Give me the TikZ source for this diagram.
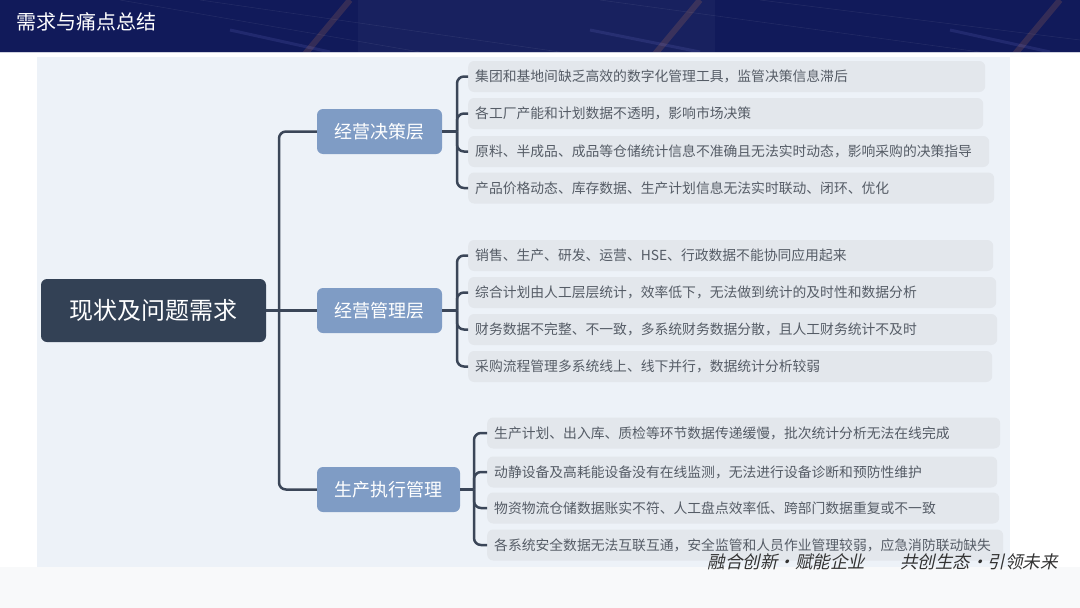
\documentclass[tikz,border=0pt]{standalone}
\usepackage{fontspec}
\setmainfont{Noto Sans CJK SC}
\newfontfamily\slogan[FakeSlant=0.22]{Noto Sans CJK SC}
\definecolor{headbg}{HTML}{111A5A}
\definecolor{panelbg}{HTML}{EDF2F8}
\definecolor{leaffill}{HTML}{E3E7EC}
\definecolor{leaftext}{HTML}{555C66}
\definecolor{midfill}{HTML}{7F9CC5}
\definecolor{rootfill}{HTML}{334155}
\definecolor{linecol}{HTML}{3B4658}
\definecolor{bottombg}{HTML}{F8F9FA}
\tikzset{
  rootbox/.style={draw=none,fill=rootfill,rounded corners=6,minimum width=225,minimum height=63,
    text=white,font=\fontsize{24}{28}\selectfont,inner sep=0},
  midbox/.style={draw=none,fill=midfill,rounded corners=6,minimum height=45,
    text=white,font=\fontsize{18}{22}\selectfont,inner sep=0},
  leafbox/.style={draw=none,fill=leaffill,rounded corners=6,minimum height=31,anchor=west,
    inner xsep=7,inner ysep=0,align=left,text=leaftext,font=\fontsize{13.8}{16}\selectfont},
  conn/.style={draw=linecol,line width=2.5pt},
  bconn/.style={draw=linecol,line width=2.5pt,rounded corners=7},
}
\begin{document}
\begin{tikzpicture}[x=1pt,y=-1pt]
\useasboundingbox (0,0) rectangle (1080,608);
% page background
\fill[white] (0,0) rectangle (1080,608);
\fill[bottombg] (0,567) rectangle (1080,608);
% header
\fill[headbg] (0,0) rectangle (1080,52);
\begin{scope}
\clip (0,0) rectangle (1080,52);
\fill[white,opacity=0.03] (358,0) rectangle (715,52);
\draw[white,opacity=0.07,line width=0.6pt] (120,0) -- (420,52) (200,0) -- (560,52) (600,0) -- (980,52) (760,0) -- (1080,40);
\draw[orange!60!pink,opacity=0.15,line width=6pt] (300,60) -- (350,0) (650,60) -- (700,0) (1010,60) -- (1060,0);
\draw[blue!40,opacity=0.12,line width=3pt] (230,30) -- (330,52) (590,30) -- (700,52) (950,30) -- (1050,52);
\end{scope}
\draw[white!80!headbg,line width=0.8pt] (0,52.5) -- (1080,52.5);
\node[anchor=west,text=white,font=\fontsize{20}{24}\selectfont,inner sep=0] (title) at (16,22) {需求与痛点总结};
% panel
\fill[panelbg] (37,57) rectangle (1010,567);
% root and level 1
\node[rootbox] (root) at (153.5,310.5) {现状及问题需求};
\node[midbox,minimum width=125] (n1) at (379.5,131.5) {经营决策层};
\node[midbox,minimum width=125] (n2) at (379.5,310.5) {经营管理层};
\node[midbox,minimum width=143] (n3) at (388.5,489.5) {生产执行管理};
\coordinate (t) at (279,310.5);
\coordinate (b1) at (457,131.5);
\coordinate (b2) at (457,310.5);
\coordinate (b3) at (474,489.5);
% leaves group 1
\node[leafbox,text width=503] (a1) at (468,76.5) {集团和基地间缺乏高效的数字化管理工具，监管决策信息滞后};
\node[leafbox,text width=501] (a2) at (468,113.5) {各工厂产能和计划数据不透明，影响市场决策};
\node[leafbox,text width=507] (a3) at (468,151.5) {原料、半成品、成品等仓储统计信息不准确且无法实时动态，影响采购的决策指导};
\node[leafbox,text width=512] (a4) at (468,188) {产品价格动态、库存数据、生产计划信息无法实时联动、闭环、优化};
% leaves group 2
\node[leafbox,text width=511] (c1) at (468,255.5) {销售、生产、研发、运营、HSE、行政数据不能协同应用起来};
\node[leafbox,text width=514] (c2) at (468,292.5) {综合计划由人工层层统计，效率低下，无法做到统计的及时性和数据分析};
\node[leafbox,text width=515] (c3) at (468,329.5) {财务数据不完整、不一致，多系统财务数据分散，且人工财务统计不及时};
\node[leafbox,text width=510] (c4) at (468,366.5) {采购流程管理多系统线上、线下并行，数据统计分析较弱};
% leaves group 3
\node[leafbox,text width=499] (d1) at (487,433) {生产计划、出入库、质检等环节数据传递缓慢，批次统计分析无法在线完成};
\node[leafbox,text width=496] (d2) at (487,472) {动静设备及高耗能设备没有在线监测，无法进行设备诊断和预防性维护};
\node[leafbox,text width=498] (d3) at (487,508) {物资物流仓储数据账实不符、人工盘点效率低、跨部门数据重复或不一致};
\node[leafbox,text width=502] (d4) at (487,545) {各系统安全数据无法互联互通，安全监管和人员作业管理较弱，应急消防联动缺失};
% trunk connectors
\draw[conn] (root.east) -- (n2.west);
\draw[bconn] (t) |- (n1.west);
\draw[bconn] (t) |- (n3.west);
% branch connectors
\draw[conn] (n1.east) -- (b1);
\draw[conn] (n2.east) -- (b2);
\draw[conn] (n3.east) -- (b3);
\foreach \l in {a1,a2,a3,a4} \draw[bconn] (b1) |- (\l.west);
\foreach \l in {c1,c2,c3,c4} \draw[bconn] (b2) |- (\l.west);
\foreach \l in {d1,d2,d3,d4} \draw[bconn] (b3) |- (\l.west);
% slogan
\node[anchor=east,inner sep=0,text=black!80,font=\slogan\fontsize{17.5}{21}\selectfont] (slg) at (1058,562) {融合创新·赋能企业\hspace{2em}共创生态·引领未来};
\end{tikzpicture}
\end{document}
